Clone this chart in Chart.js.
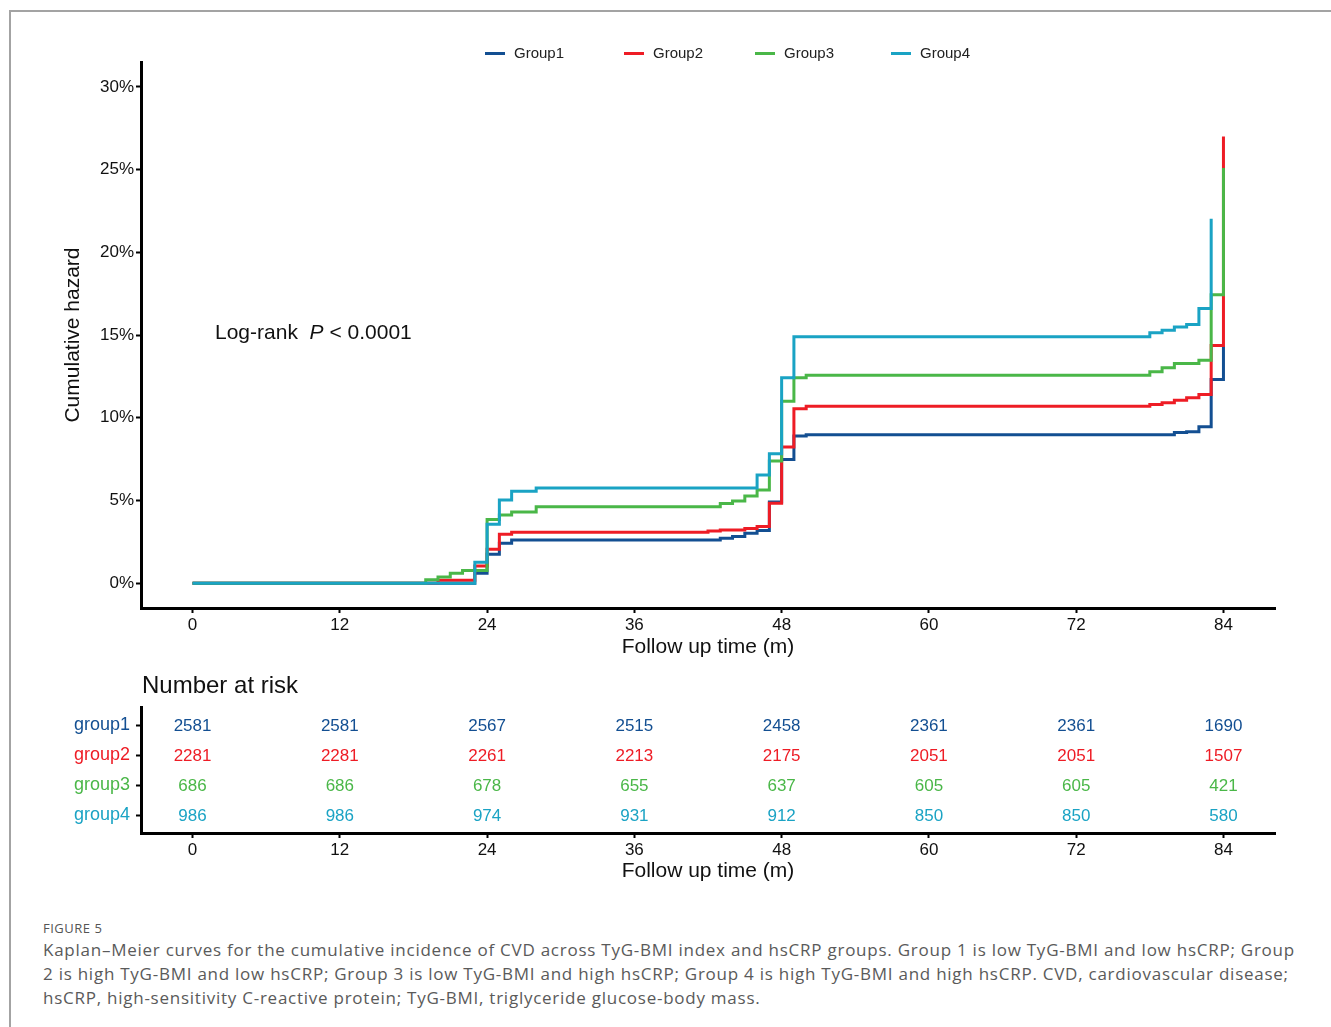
<!DOCTYPE html>
<html>
<head>
<meta charset="utf-8">
<script src="https://cdn.jsdelivr.net/npm/chart.js@4.4.1/dist/chart.umd.min.js"></script>
<style>
  body { margin: 0; background: #fff; font-family: "Liberation Sans", Arial, sans-serif; }
  #page { position: relative; width: 1331px; height: 1027px; overflow: hidden; }
  #frame { position: absolute; left: 9px; top: 10px; width: 1330px; height: 1030px;
           border-top: 2px solid #a3a3a3; border-left: 2px solid #a3a3a3; }
  canvas { position: absolute; left: 0; }
  #mainChart { top: 0; }
  #riskChart { top: 680px; }
  .legend { position: absolute; top: 44px; font-size: 15px; color: #222; white-space: nowrap; }
  .legend span.key { display: inline-block; width: 20px; height: 3px; vertical-align: middle; margin-right: 9px; position: relative; top: -1px; }
  #logrank { position: absolute; left: 215px; top: 320px; font-size: 21px; color: #111; white-space: nowrap; }
  #riskTitle { position: absolute; left: 142px; top: 671px; font-size: 24px; color: #111; white-space: nowrap; }
  #figLabel { position: absolute; left: 43px; top: 919px; font-family: "Open Sans", sans-serif; font-size: 13px; color: #555; letter-spacing: 0.5px; }
  .cap { position: absolute; left: 43px; font-family: "Open Sans", sans-serif; font-size: 17px; letter-spacing: 0.75px; color: #5a5a5a; white-space: nowrap; }
</style>
</head>
<body>
<div id="page">
  <div id="frame"></div>
  <canvas id="mainChart" width="1331" height="680"></canvas>
  <canvas id="riskChart" width="1331" height="220"></canvas>
  <div id="legendBox"></div>
  <div id="logrank">Log-rank&nbsp; <i>P</i> &lt; 0.0001</div>
  <div id="riskTitle">Number at risk</div>
  <div id="figLabel">FIGURE 5</div>
  <div class="cap" style="top:938px">Kaplan–Meier curves for the cumulative incidence of CVD across TyG-BMI index and hsCRP groups. Group 1 is low TyG-BMI and low hsCRP; Group</div>
  <div class="cap" style="top:962px">2 is high TyG-BMI and low hsCRP; Group 3 is low TyG-BMI and high hsCRP; Group 4 is high TyG-BMI and high hsCRP. CVD, cardiovascular disease;</div>
  <div class="cap" style="top:986px">hsCRP, high-sensitivity C-reactive protein; TyG-BMI, triglyceride glucose-body mass.</div>
</div>
<script>
// series names / colours
const groupNames = ["Group1", "Group2", "Group3", "Group4"];
const riskRowNames = ["group1", "group2", "group3", "group4"];
const groupColors = ["#134f92", "#ee1c25", "#4ab748", "#1aa3c4"];
const legendLeft = [485, 624, 755, 891];

// cumulative hazard (%), step times in months
const g1Time = [0, 23, 24, 25, 26, 43, 44, 45, 46, 47, 48, 49, 50, 80, 81, 82, 83, 84];
const g1Haz = [0, 0.6, 1.75, 2.41, 2.61, 2.72, 2.82, 3.02, 3.18, 4.9, 7.48, 8.89, 8.97, 9.1, 9.16, 9.46, 12.31, 14.32];

const g2Time = [0, 20, 23, 24, 25, 26, 42, 43, 45, 46, 47, 48, 49, 50, 78, 79, 80, 81, 82, 83, 84];
const g2Haz = [0, 0.18, 1.04, 2.05, 2.96, 3.08, 3.16, 3.22, 3.3, 3.42, 4.83, 8.23, 10.54, 10.7, 10.8, 10.9, 11.06, 11.2, 11.41, 14.37, 27.0];

const g3Time = [0, 19, 20, 21, 22, 24, 25, 26, 28, 43, 44, 45, 46, 47, 48, 49, 50, 78, 79, 80, 82, 83, 84];
const g3Haz = [0, 0.2, 0.38, 0.6, 0.76, 3.85, 4.12, 4.3, 4.62, 4.81, 4.97, 5.27, 5.63, 7.38, 11.0, 12.41, 12.57, 12.78, 13.02, 13.28, 13.48, 17.44, 25.09];

const g4Time = [0, 23, 24, 25, 26, 28, 46, 47, 48, 49, 78, 79, 80, 81, 82, 83];
const g4Haz = [0, 1.27, 3.56, 5.03, 5.55, 5.75, 6.54, 7.83, 12.41, 14.89, 15.13, 15.29, 15.49, 15.63, 16.6, 22.03];

// axis ticks
const xTicks = [0, 12, 24, 36, 48, 60, 72, 84];
const yTicks = [0, 5, 10, 15, 20, 25, 30];

// number at risk table
const riskTimes = [0, 12, 24, 36, 48, 60, 72, 84];
const risk1 = [2581, 2581, 2567, 2515, 2458, 2361, 2361, 1690];
const risk2 = [2281, 2281, 2261, 2213, 2175, 2051, 2051, 1507];
const risk3 = [686, 686, 678, 655, 637, 605, 605, 421];
const risk4 = [986, 986, 974, 931, 912, 850, 850, 580];

Chart.defaults.font.family = '"Liberation Sans", Arial, sans-serif';
Chart.defaults.color = "#111";

// html legend
let legendBox = document.getElementById("legendBox");
groupNames.forEach(function (name, i) {
  let div = document.createElement("div");
  div.className = "legend";
  div.style.left = legendLeft[i] + "px";
  div.innerHTML = `<span class="key" style="background:${groupColors[i]}"></span>${name}`;
  legendBox.appendChild(div);
});

function toPoints(times, vals) {
  return times.map(function (t, i) {
    return { x: t, y: vals[i] };
  });
}

const curveTimes = [g1Time, g2Time, g3Time, g4Time];
const curveHaz = [g1Haz, g2Haz, g3Haz, g4Haz];

const axisGrid = {
  drawOnChartArea: false,
  drawTicks: true,
  tickLength: 5,
  tickWidth: 2,
  tickColor: "#000",
};
const axisBorder = { display: true, width: 3, color: "#000" };

const mainChart = new Chart(document.getElementById("mainChart"), {
  type: "line",
  data: {
    datasets: groupNames.map(function (name, i) {
      return {
        label: name,
        data: toPoints(curveTimes[i], curveHaz[i]),
        borderColor: groupColors[i],
        backgroundColor: groupColors[i],
        borderWidth: 3,
        stepped: "before",
        pointRadius: 0,
        fill: false,
        order: 4 - i,
      };
    }),
  },
  options: {
    responsive: false,
    animation: false,
    layout: { padding: { left: 0, top: 62, right: 56, bottom: 0 } },
    plugins: { legend: { display: false }, tooltip: { enabled: false } },
    scales: {
      x: {
        type: "linear",
        min: -4.2,
        max: 88.2,
        afterBuildTicks: function (scale) {
          scale.ticks = xTicks.map(function (v) { return { value: v }; });
        },
        afterFit: function (scale) { scale.height = 72; },
        ticks: { font: { size: 17 }, color: "#111", padding: 2, maxRotation: 0 },
        grid: axisGrid,
        border: axisBorder,
        title: { display: true, text: "Follow up time (m)", font: { size: 21 }, color: "#111", padding: { top: 0, bottom: 20 } },
      },
      y: {
        type: "linear",
        min: -1.5,
        max: 31.5,
        afterBuildTicks: function (scale) {
          scale.ticks = yTicks.map(function (v) { return { value: v }; });
        },
        afterFit: function (scale) { scale.width = 141; },
        ticks: {
          font: { size: 17 },
          color: "#111",
          padding: 2,
          callback: function (v) { return v + "%"; },
        },
        grid: axisGrid,
        border: axisBorder,
        title: { display: true, text: "Cumulative hazard", font: { size: 21 }, color: "#111", padding: { top: 61, bottom: 0 } },
      },
    },
  },
});

// risk table: one invisible point per cell, numbers drawn at those points
const riskCounts = [risk1, risk2, risk3, risk4];

const riskTextPlugin = {
  id: "riskText",
  afterDatasetsDraw(chart) {
    const ctx = chart.ctx;
    ctx.save();
    ctx.font = '17px "Liberation Sans", Arial, sans-serif';
    ctx.textAlign = "center";
    ctx.textBaseline = "middle";
    chart.data.datasets.forEach(function (ds, i) {
      const meta = chart.getDatasetMeta(i);
      ctx.fillStyle = groupColors[i];
      meta.data.forEach(function (pt, j) {
        ctx.fillText(String(riskCounts[i][j]), pt.x, pt.y + 1);
      });
    });
    ctx.restore();
  },
};

const riskChart = new Chart(document.getElementById("riskChart"), {
  type: "scatter",
  data: {
    datasets: riskRowNames.map(function (name, i) {
      return {
        label: name,
        data: riskTimes.map(function (t) { return { x: t, y: i + 1 }; }),
        pointRadius: 0,
        showLine: false,
      };
    }),
  },
  options: {
    responsive: false,
    animation: false,
    layout: { padding: { left: 0, top: 27, right: 56, bottom: 0 } },
    plugins: { legend: { display: false }, tooltip: { enabled: false } },
    scales: {
      x: {
        type: "linear",
        min: -4.2,
        max: 88.2,
        afterBuildTicks: function (scale) {
          scale.ticks = xTicks.map(function (v) { return { value: v }; });
        },
        afterFit: function (scale) { scale.height = 67; },
        ticks: { font: { size: 17 }, color: "#111", padding: 2, maxRotation: 0 },
        grid: axisGrid,
        border: axisBorder,
        title: { display: true, text: "Follow up time (m)", font: { size: 21 }, color: "#111", padding: { top: 0, bottom: 16 } },
      },
      y: {
        type: "linear",
        min: 0.4,
        max: 4.6,
        reverse: true,
        afterBuildTicks: function (scale) {
          scale.ticks = [1, 2, 3, 4].map(function (v) { return { value: v }; });
        },
        afterFit: function (scale) { scale.width = 141; },
        ticks: {
          font: { size: 18 },
          padding: 6,
          color: function (c) { return groupColors[c.index] || "#111"; },
          callback: function (v) { return riskRowNames[v - 1]; },
        },
        grid: axisGrid,
        border: axisBorder,
      },
    },
  },
  plugins: [riskTextPlugin],
});
</script>
</body>
</html>
